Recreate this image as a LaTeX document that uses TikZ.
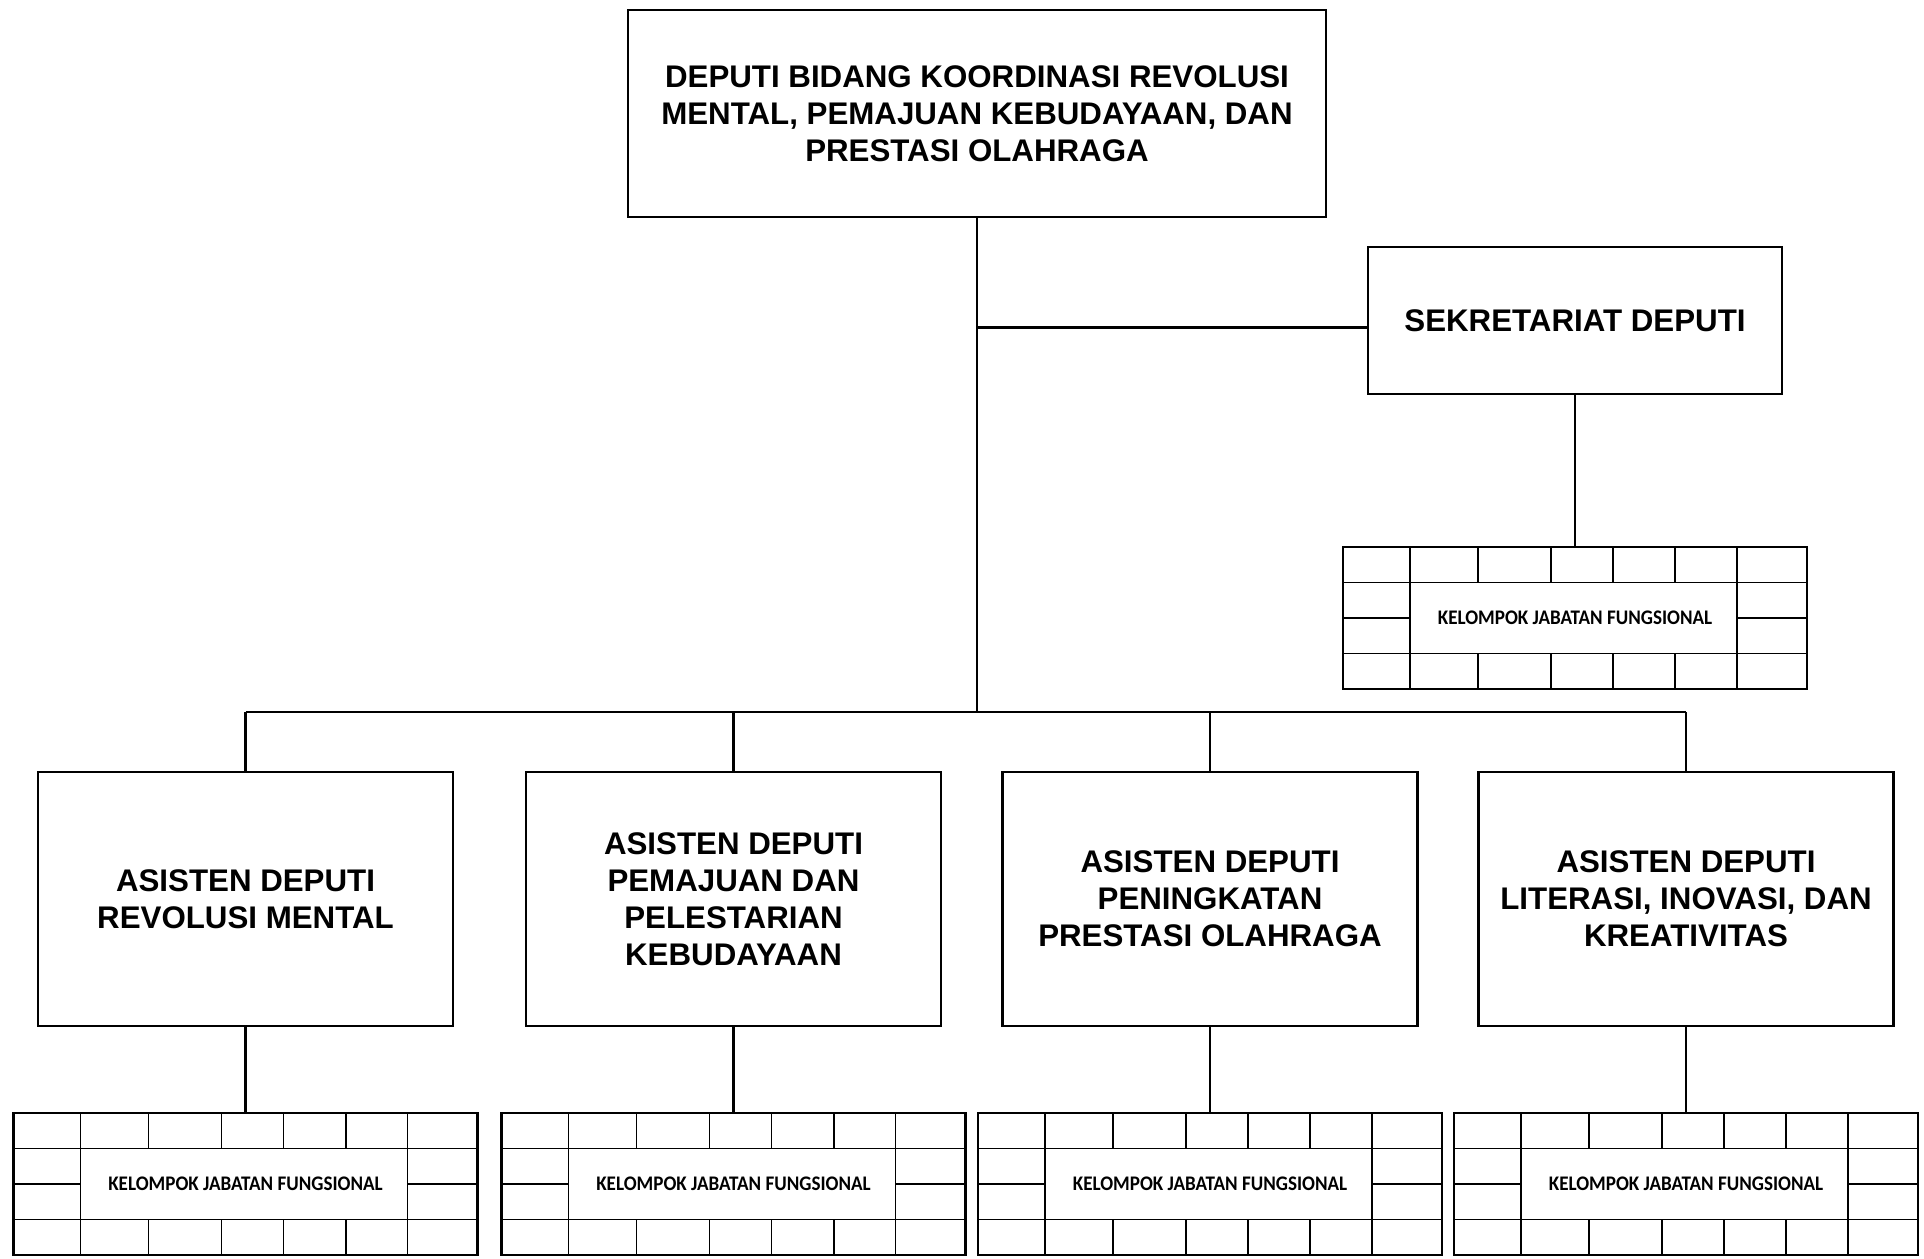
\documentclass[tikz,border=0pt]{standalone}
\usepackage{fontspec}
\setmainfont{Liberation Sans}
\newfontfamily\kjffont[FakeStretch=0.92]{Carlito}
\usetikzlibrary{positioning,calc}

% grid of the "kelompok jabatan fungsional" boxes, drawn inside node #1
\newcommand{\kjfgrid}[1]{%
  \foreach \f in {0.291,0.448,0.582,0.716}
    \draw [grid-line] ($(#1.north west)!\f!(#1.north east)$) -- ++(0,-0.71)
                      ($(#1.south west)!\f!(#1.south east)$) -- ++(0,0.71);
  \foreach \f in {0.144,0.849}
    \draw [grid-line] ($(#1.north west)!\f!(#1.north east)$) -- ($(#1.south west)!\f!(#1.south east)$);
  \draw [grid-line] ($(#1.north west)+(0,-0.71)$) -- ($(#1.north east)+(0,-0.71)$)
                    ($(#1.south west)+(0,0.71)$) -- ($(#1.south east)+(0,0.71)$);
  \draw [grid-line] (#1.west) -- ($(#1.west)!0.144!(#1.east)$)
                    (#1.east) -- ($(#1.west)!0.849!(#1.east)$);
}

\begin{document}
\begin{tikzpicture}[
  unit-box/.style={draw,line width=1.4pt,align=center,inner sep=0pt,outer sep=0pt,
    font=\bfseries\fontsize{17.8}{21}\selectfont},
  top-box/.style={unit-box,minimum width=13.96cm,minimum height=4.14cm},
  sek-box/.style={unit-box,minimum width=8.28cm,minimum height=2.94cm},
  asdep-box/.style={unit-box,minimum width=8.3cm,minimum height=5.08cm},
  kjf-box/.style={draw,line width=1.4pt,inner sep=0pt,outer sep=0pt,
    minimum width=9.28cm,minimum height=2.84cm,
    font=\kjffont\bfseries\fontsize{11.8}{13}\selectfont},
  grid-line/.style={line width=0.9pt},
  link/.style={draw,line width=1.3pt},
  ]

  \useasboundingbox (0,0) rectangle (38.48,-25.16);

  \node [top-box] (deputi-box) at (19.54,-2.27)
    {DEPUTI BIDANG KOORDINASI REVOLUSI\\MENTAL, PEMAJUAN KEBUDAYAAN, DAN\\PRESTASI OLAHRAGA};

  \node [sek-box] (sekdep-box) at (31.5,-6.41) {SEKRETARIAT DEPUTI};
  \node [kjf-box,below=3.06cm of sekdep-box] (sekdep-kjf) {KELOMPOK JABATAN FUNGSIONAL};

  \node [asdep-box] (asdep1-box) at (4.91,-17.98) {ASISTEN DEPUTI\\REVOLUSI MENTAL};
  \node [asdep-box] (asdep2-box) at (14.67,-17.98) {ASISTEN DEPUTI\\PEMAJUAN DAN\\PELESTARIAN\\KEBUDAYAAN};
  \node [asdep-box] (asdep3-box) at (24.2,-17.98) {ASISTEN DEPUTI\\PENINGKATAN\\PRESTASI OLAHRAGA};
  \node [asdep-box] (asdep4-box) at (33.72,-17.98) {ASISTEN DEPUTI\\LITERASI, INOVASI, DAN\\KREATIVITAS};

  \foreach \i in {1,...,4} {
    \node [kjf-box,below=1.74cm of asdep\i-box] (asdep\i-kjf) {KELOMPOK JABATAN FUNGSIONAL};
    \kjfgrid{asdep\i-kjf}
  }
  \kjfgrid{sekdep-kjf}

  \coordinate (bus-mid) at ($(deputi-box.south)+(0,-9.9)$);
  \coordinate (sek-join) at ($(sekdep-box.west)+(0,-0.14)$);

  \draw [link] (deputi-box.south) -- (bus-mid);
  \draw [link] (sek-join) -- (sek-join -| deputi-box.south);
  \draw [link] (sekdep-box.south) -- (sekdep-kjf.north);
  \draw [link] (asdep1-box.north |- bus-mid) -- (asdep4-box.north |- bus-mid);
  \foreach \i in {1,...,4} {
    \draw [link] (asdep\i-box.north |- bus-mid) -- (asdep\i-box.north);
    \draw [link] (asdep\i-box.south) -- (asdep\i-kjf.north);
  }

\end{tikzpicture}
\end{document}
